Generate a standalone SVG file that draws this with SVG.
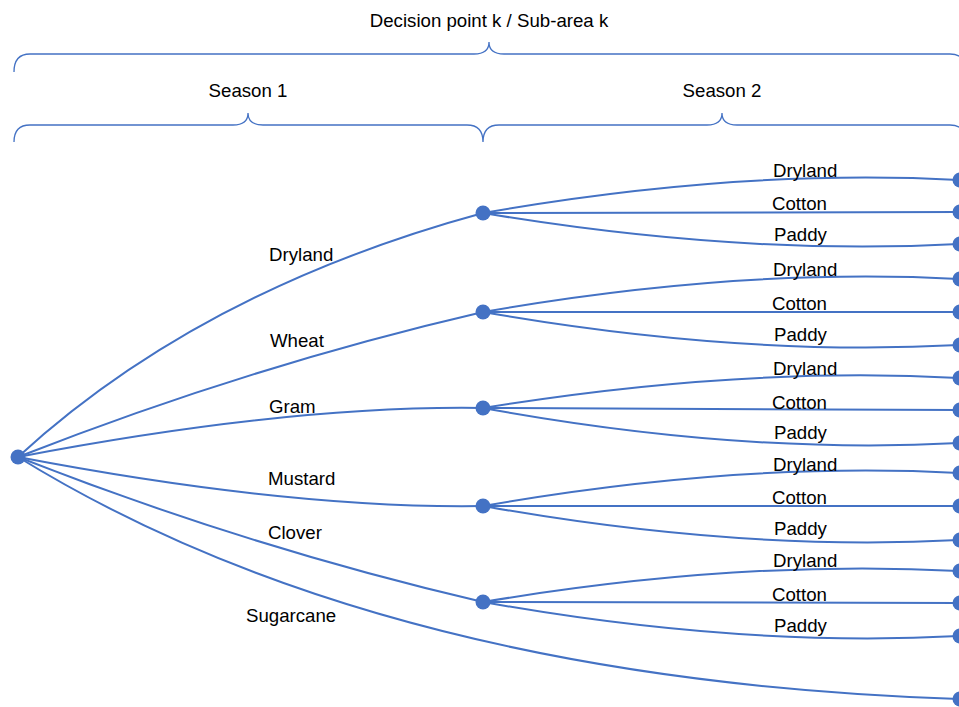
<svg xmlns="http://www.w3.org/2000/svg" width="959" height="707" viewBox="0 0 959 707">
  <style>
    .edge { fill: none; stroke: #4472C4; stroke-width: 2; }
    .brace { fill: none; stroke: #4472C4; stroke-width: 1.3; }
    .node { fill: #4472C4; }
    text { font-family: "Liberation Sans", Arial, sans-serif; font-size: 18.67px; fill: #000; }
    .mid { text-anchor: middle; }
  </style>
  <rect width="959" height="707" fill="#fff"/>

  <!-- Header braces -->
  <g id="braces">
    <text class="mid" x="489" y="27">Decision point k / Sub-area k</text>
    <path class="brace" d="M14,72 Q14,54 30,54 L474,54 Q489,54 489,42 Q489,54 504,54 L950,54 Q966,54 966,72"/>
    <text class="mid" x="248" y="97">Season 1</text>
    <text class="mid" x="722" y="97">Season 2</text>
    <path class="brace" d="M14,142 Q14,125 30,125 L233,125 Q248,125 248,113 Q248,125 263,125 L467,125 Q483,125 483,142 Q483,125 499,125 L707,125 Q722,125 722,113 Q722,125 737,125 L950,125 Q966,125 966,142"/>
  </g>

  <!-- Connectors -->
  <g id="connectors">
    <!-- season 1 branches -->
    <path class="edge" d="M18,457 Q200,290 483,213"/>
    <path class="edge" d="M18,457 Q250,366 483,312"/>
    <path class="edge" d="M18,457 Q290,405 483,408"/>
    <path class="edge" d="M18,457 Q290,509 483,506"/>
    <path class="edge" d="M18,457 Q250,548 483,602"/>
    <path class="edge" d="M18,457 Q380,680 960,699"/>
    <!-- season 2 branches -->
    <path class="edge" d="M483,213 Q740,168 960,180"/>
    <path class="edge" d="M483,213 L960,212"/>
    <path class="edge" d="M483,213 Q740,256 960,244"/>

    <path class="edge" d="M483,312 Q740,267 960,279"/>
    <path class="edge" d="M483,312 L960,312"/>
    <path class="edge" d="M483,312 Q740,357 960,345"/>

    <path class="edge" d="M483,408 Q740,366 960,378"/>
    <path class="edge" d="M483,408 L960,410"/>
    <path class="edge" d="M483,408 Q740,455 960,443"/>

    <path class="edge" d="M483,506 Q740,461 960,473"/>
    <path class="edge" d="M483,506 L960,506"/>
    <path class="edge" d="M483,506 Q740,552 960,540"/>

    <path class="edge" d="M483,602 Q740,559 960,571"/>
    <path class="edge" d="M483,602 L960,603"/>
    <path class="edge" d="M483,602 Q740,648 960,636"/>
  </g>

  <!-- Edge labels -->
  <g id="labels">
    <text x="269" y="261">Dryland</text>
    <text x="270" y="347">Wheat</text>
    <text x="269" y="413">Gram</text>
    <text x="268" y="485">Mustard</text>
    <text x="268" y="539">Clover</text>
    <text x="246" y="622">Sugarcane</text>

    <text x="773" y="177">Dryland</text>
    <text x="772" y="210">Cotton</text>
    <text x="774" y="241">Paddy</text>

    <text x="773" y="276">Dryland</text>
    <text x="772" y="310">Cotton</text>
    <text x="774" y="341">Paddy</text>

    <text x="773" y="375">Dryland</text>
    <text x="772" y="409">Cotton</text>
    <text x="774" y="439">Paddy</text>

    <text x="773" y="471">Dryland</text>
    <text x="772" y="504">Cotton</text>
    <text x="774" y="535">Paddy</text>

    <text x="773" y="567">Dryland</text>
    <text x="772" y="601">Cotton</text>
    <text x="774" y="632">Paddy</text>
  </g>

  <!-- Nodes -->
  <g id="root"><circle class="node" cx="18" cy="457" r="7.5"/></g>
  <g id="s1-dryland"><circle class="node" cx="483" cy="213" r="7.5"/></g>
  <g id="s1-wheat"><circle class="node" cx="483" cy="312" r="7.5"/></g>
  <g id="s1-gram"><circle class="node" cx="483" cy="408" r="7.5"/></g>
  <g id="s1-mustard"><circle class="node" cx="483" cy="506" r="7.5"/></g>
  <g id="s1-clover"><circle class="node" cx="483" cy="602" r="7.5"/></g>

  <g id="leaf-1-dryland"><circle class="node" cx="960" cy="180" r="7.5"/></g>
  <g id="leaf-1-cotton"><circle class="node" cx="960" cy="212" r="7.5"/></g>
  <g id="leaf-1-paddy"><circle class="node" cx="960" cy="244" r="7.5"/></g>
  <g id="leaf-2-dryland"><circle class="node" cx="960" cy="279" r="7.5"/></g>
  <g id="leaf-2-cotton"><circle class="node" cx="960" cy="312" r="7.5"/></g>
  <g id="leaf-2-paddy"><circle class="node" cx="960" cy="345" r="7.5"/></g>
  <g id="leaf-3-dryland"><circle class="node" cx="960" cy="378" r="7.5"/></g>
  <g id="leaf-3-cotton"><circle class="node" cx="960" cy="410" r="7.5"/></g>
  <g id="leaf-3-paddy"><circle class="node" cx="960" cy="443" r="7.5"/></g>
  <g id="leaf-4-dryland"><circle class="node" cx="960" cy="473" r="7.5"/></g>
  <g id="leaf-4-cotton"><circle class="node" cx="960" cy="506" r="7.5"/></g>
  <g id="leaf-4-paddy"><circle class="node" cx="960" cy="540" r="7.5"/></g>
  <g id="leaf-5-dryland"><circle class="node" cx="960" cy="571" r="7.5"/></g>
  <g id="leaf-5-cotton"><circle class="node" cx="960" cy="603" r="7.5"/></g>
  <g id="leaf-5-paddy"><circle class="node" cx="960" cy="636" r="7.5"/></g>
  <g id="leaf-sugarcane"><circle class="node" cx="960" cy="699" r="7.5"/></g>
</svg>
